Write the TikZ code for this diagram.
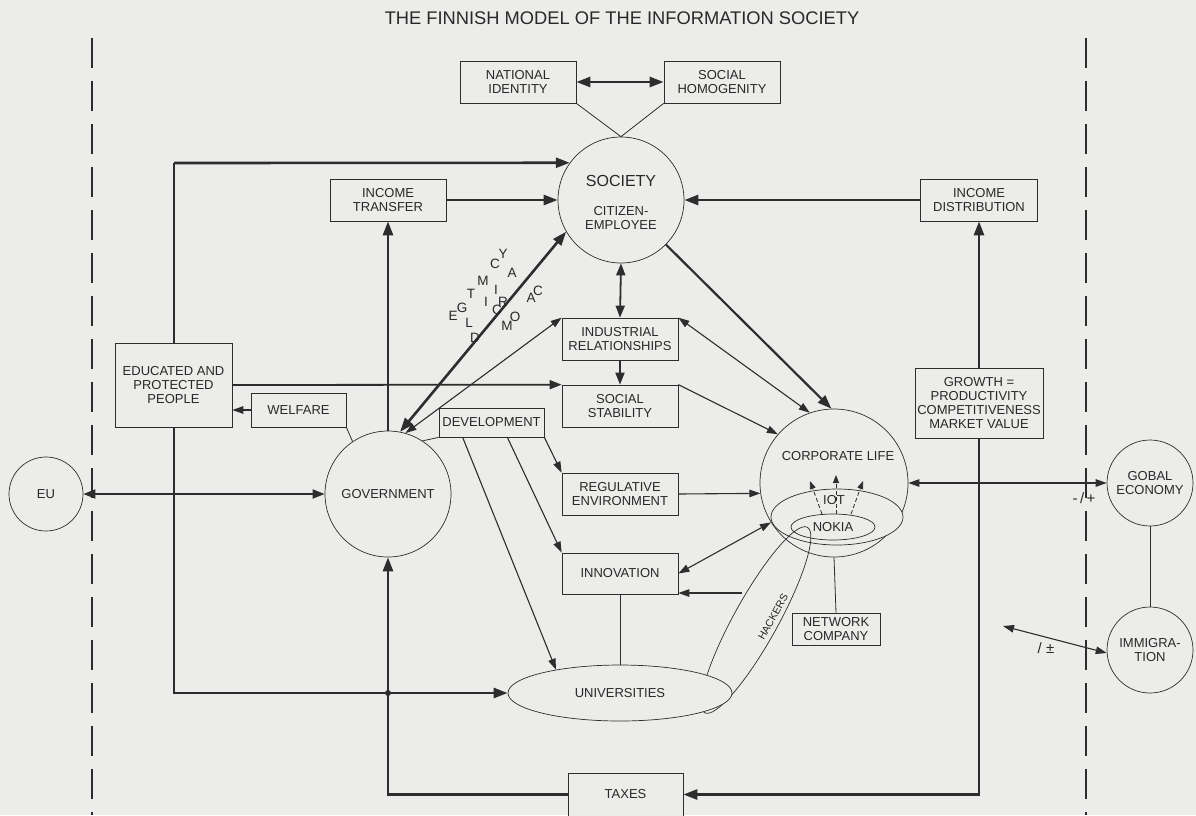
\documentclass[tikz,border=0pt]{standalone}
\usepackage{fontspec}
\setmainfont{Liberation Sans}
\usetikzlibrary{arrows.meta,shapes.geometric}
\definecolor{paper}{RGB}{236,236,234}
\definecolor{ink}{RGB}{45,45,45}
\definecolor{inktext}{RGB}{40,40,40}
\newcommand\boxfont{\fontsize{13}{14.2}\selectfont}
\newcommand\letterfont{\fontsize{13.5}{13.5}\selectfont}
\pgfdeclarelayer{back}
\pgfdeclarelayer{wires}
\pgfsetlayers{back,wires,main}
\tikzset{
  every node/.style={text=inktext},
  stepbox/.style={draw=ink, fill=paper, line width=0.7pt, inner sep=0pt, align=center, font=\boxfont},
  roundnode/.style={draw=ink, fill=paper, circle, line width=0.7pt, inner sep=0pt, align=center, font=\boxfont},
  ovalnode/.style={draw=ink, fill=paper, ellipse, line width=0.7pt, inner sep=0pt, align=center, font=\boxfont},
  label/.style={inner sep=0pt, align=center, font=\boxfont},
  letter/.style={inner sep=0pt, font=\letterfont},
  heavy/.style={draw=ink, line width=2.6pt, line join=miter, -{Triangle[length=14pt,width=10pt]}},
  heavytwo/.style={draw=ink, line width=2.6pt, {Triangle[length=14pt,width=10pt]}-{Triangle[length=14pt,width=10pt]}},
  medium/.style={draw=ink, line width=1.8pt, -{Triangle[length=12pt,width=9pt]}},
  mediumtwo/.style={draw=ink, line width=1.8pt, {Triangle[length=12pt,width=9pt]}-{Triangle[length=12pt,width=9pt]}},
  light/.style={draw=ink, line width=1.1pt, -{Triangle[length=11pt,width=7.5pt]}},
  lighttwo/.style={draw=ink, line width=1.1pt, {Triangle[length=11pt,width=7.5pt]}-{Triangle[length=11pt,width=7.5pt]}},
  plain/.style={draw=ink, line width=0.8pt},
  dashline/.style={draw=ink, line width=0.8pt, dash pattern=on 4pt off 2.5pt, -{Triangle[length=8pt,width=6pt]}},
  border/.style={draw=ink, line width=1.6pt, dash pattern=on 30pt off 13pt},
}
\begin{document}
\begin{tikzpicture}[x=1pt,y=-1pt]
\useasboundingbox (0,0) rectangle (1196,815);
\begin{pgfonlayer}{back}
  \fill[paper] (0,0) rectangle (1196,815);
  \draw[border] (92,38) -- (92,815);
  \draw[border] (1086,38) -- (1086,815);
\end{pgfonlayer}

% title
\node[inner sep=0pt, font=\fontsize{18.3}{20}\selectfont] (title) at (622,18) {THE FINNISH MODEL OF THE INFORMATION SOCIETY};

% boxes
\node[stepbox, minimum width=116pt, minimum height=42pt] (ni) at (518,82) {NATIONAL\\IDENTITY};
\node[stepbox, minimum width=116pt, minimum height=42pt] (sh) at (722,82) {SOCIAL\\HOMOGENITY};
\node[stepbox, minimum width=116pt, minimum height=42pt] (itr) at (388,200) {INCOME\\TRANSFER};
\node[stepbox, minimum width=117pt, minimum height=42pt] (idist) at (979,200) {INCOME\\DISTRIBUTION};
\node[stepbox, minimum width=116pt, minimum height=42pt] (ind) at (620,339) {INDUSTRIAL\\RELATIONSHIPS};
\node[stepbox, minimum width=116pt, minimum height=42pt] (stab) at (620,406) {SOCIAL\\STABILITY};
\node[stepbox, minimum width=117pt, minimum height=84pt] (edu) at (173.5,385) {EDUCATED AND\\PROTECTED\\PEOPLE};
\node[stepbox, minimum width=95pt, minimum height=34pt] (wel) at (298.5,410) {WELFARE};
\node[stepbox, minimum width=105pt, minimum height=29pt] (dev) at (491.5,422.5) {DEVELOPMENT};
\node[stepbox, minimum width=116pt, minimum height=42pt] (reg) at (620,494) {REGULATIVE\\ENVIRONMENT};
\node[stepbox, minimum width=116pt, minimum height=41pt] (inn) at (620,573.5) {INNOVATION};
\node[stepbox, minimum width=128pt, minimum height=70pt] (grow) at (979,403) {GROWTH =\\PRODUCTIVITY\\COMPETITIVENESS\\MARKET VALUE};
\node[stepbox, minimum width=88pt, minimum height=32pt] (net) at (836,629) {NETWORK\\COMPANY};
\node[stepbox, minimum width=115pt, minimum height=43pt] (tax) at (625.5,794.5) {TAXES};

% circles
\node[roundnode, minimum size=126pt] (soc) at (621,200) {};
\node[label, font=\fontsize{16}{17}\selectfont] (soct) at (621,181) {SOCIETY};
\node[label] (socs) at (621,218) {CITIZEN-\\EMPLOYEE};
\node[roundnode, minimum size=126pt] (gov) at (388,494) {GOVERNMENT};
\node[roundnode, minimum size=74pt] (eu) at (46,494) {EU};
\node[roundnode, minimum size=86pt] (glob) at (1150,483) {GOBAL\\ECONOMY};
\node[roundnode, minimum size=86pt] (imm) at (1150,650) {IMMIGRA-\\TION};

% corporate life with its inner layers
\node[roundnode, minimum size=148pt] (corp) at (834,483) {};
\node[label] (corpt) at (838,456) {CORPORATE LIFE};
\node[ovalnode, minimum width=132pt, minimum height=56pt] (iotell) at (837,517) {};
\node[label] (iot) at (834,500) {IOT};
\node[ovalnode, minimum width=84pt, minimum height=26pt] (nokia) at (833,527) {NOKIA};
\node[draw=ink, line width=0.7pt, ellipse, minimum width=212pt, minimum height=44pt, inner sep=0pt, rotate=61] (hack) at (756,620) {};
\node[inner sep=0pt, font=\fontsize{10.5}{10.5}\selectfont, rotate=61] (hackt) at (773,617) {HACKERS};
\node[ovalnode, minimum width=224pt, minimum height=56pt] (univ) at (620,693) {UNIVERSITIES};

% free ends and corners
\coordinate (tl) at (174,163);
\coordinate (bl) at (174,693);
\coordinate (gb) at (388,794.5);
\coordinate (gr) at (979,794.5);
\coordinate (hk) at (742,593);
\coordinate (ia) at (1003,626);
\node[circle, fill=ink, minimum size=6pt, inner sep=0pt] (jn) at (388,693) {};

% dashed arrows from the IOT layer
\coordinate (d1a) at (822,514); \coordinate (d1b) at (810,481);
\coordinate (d2a) at (836,514); \coordinate (d2b) at (836,475);
\coordinate (d3a) at (851,514); \coordinate (d3b) at (863,481);
\draw[dashline] (d1a) -- (d1b);
\draw[dashline] (d2a) -- (d2b);
\draw[dashline] (d3a) -- (d3b);

% labels on the links
\node[label, font=\fontsize{15}{15}\selectfont] (pm1) at (1084,498) {-\,/\,+};
\node[label, font=\fontsize{15}{15}\selectfont] (pm2) at (1046,648) {/ ±};

% letters along the legitimacy link
\node[letter] (l1) at (503,254) {Y};
\node[letter] (l2) at (495,264) {C};
\node[letter] (l3) at (512,273) {A};
\node[letter] (l4) at (483,281) {M};
\node[letter] (l5) at (496,290) {I};
\node[letter] (l6) at (471,294) {T};
\node[letter] (l7) at (486,302) {I};
\node[letter] (l8) at (462,308) {G};
\node[letter] (l9) at (453,316) {E};
\node[letter] (l10) at (469,323) {L};
\node[letter] (l11) at (475,338) {D};
\node[letter] (r1) at (538,291) {C};
\node[letter] (r2) at (531,298) {A};
\node[letter] (r3) at (503,302) {R};
\node[letter] (r4) at (497,310) {C};
\node[letter] (r5) at (515,317) {O};
\node[letter] (r6) at (507,326) {M};

\begin{pgfonlayer}{wires}
  % top of the society
  \draw[heavytwo] (ni.east) -- (sh.west);
  \draw[plain] (ni.south east) -- (soc.north);
  \draw[plain] (sh.south west) -- (soc.north);
  % state channels
  \draw[heavy] (tl) -- (soc.144);
  \draw[heavy] (tl) -- (bl) -- (univ.west);
  \draw[heavy] (itr.east) -- (soc.west);
  \draw[heavy] (gov.north) -- (itr.south);
  \draw[heavy] (idist.west) -- (soc.east);
  \draw[heavy] (grow.north) -- (idist.south);
  \draw[heavy] (grow.south) -- (gr) -- (tax.east);
  \draw[heavy] (tax.west) -- (gb) -- (gov.south);
  \draw[heavytwo] (gov.79) -- (soc.210);
  \draw[lighttwo] (gov.74) -- (ind.north west);
  \draw[mediumtwo] (soc.south) -- (ind.north);
  \draw[medium] (ind.south) -- (stab.north);
  \draw[medium] (edu.east) -- (stab.north west);
  \draw[light] (wel.west) -- (edu.east |- wel.west);
  \draw[plain] (wel.south east) -- (gov.124);
  \draw[plain] (dev.south west) -- (gov.57);
  \draw[mediumtwo] (eu.east) -- (gov.west);
  % development
  \draw[light] (dev.south east) -- (reg.north west);
  \draw[light] ([xshift=-37pt]dev.south east) -- (inn.north west);
  \draw[light] ([xshift=24pt]dev.south west) -- (univ.160);
  \draw[plain] (inn.south) -- (univ.north);
  % corporate life
  \draw[light] (reg.east) -- (corp.188.5);
  \draw[lighttwo] (inn.east) -- (corp.212);
  \draw[light] (hk) -- (inn.east |- hk);
  \draw[light] (stab.north east) -- (corp.139);
  \draw[lighttwo] (ind.north east) -- (corp.109);
  \draw[heavy, line width=2.2pt] (soc) -- (corp.92);
  \draw[lighttwo] (corp.east) -- (glob.west);
  \draw[plain] (corp.south) -- (net.north);
  % outside
  \draw[plain] (glob.south) -- (imm.north);
  \draw[lighttwo] (ia) -- (imm.184);
\end{pgfonlayer}
\end{tikzpicture}
\end{document}
